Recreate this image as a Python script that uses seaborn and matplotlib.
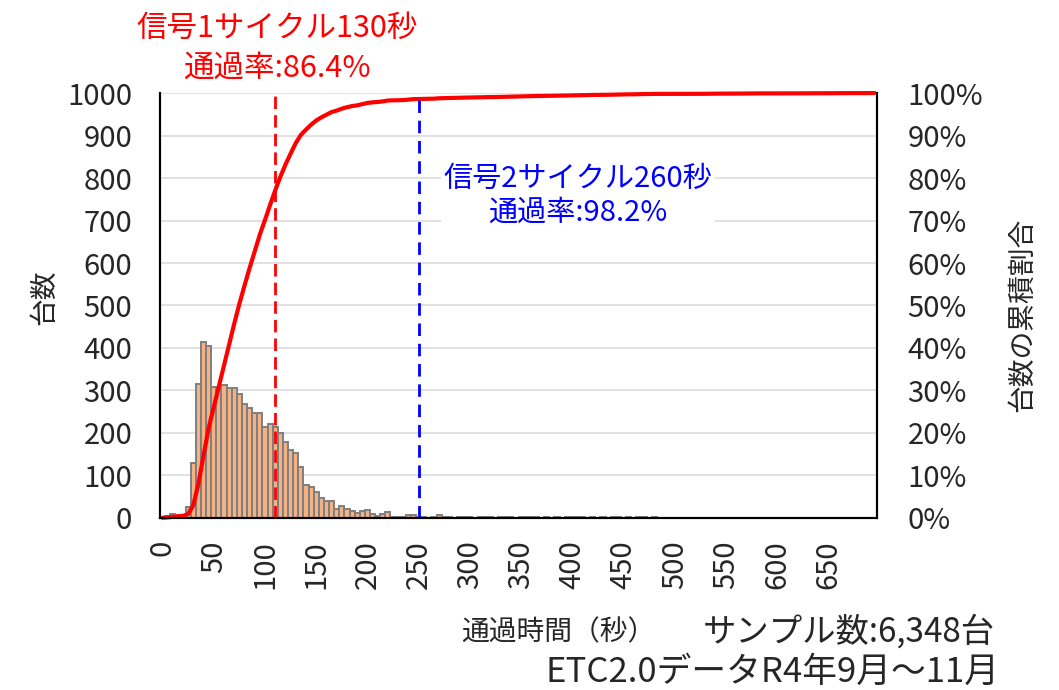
import numpy as np
import pandas as pd
import matplotlib
matplotlib.use("Agg")
import matplotlib.pyplot as plt
import seaborn as sns
from matplotlib.ticker import PercentFormatter

# Data (5 second bins, 0 - 695 sec)
bin_start = list(range(0, 700, 5))

counts = [
    3, 5, 9, 7, 8, 26, 130, 316, 415, 404,
    308, 303, 314, 305, 305, 291, 268, 258, 246, 246,
    214, 222, 213, 200, 179, 161, 153, 121, 78, 72,
    62, 46, 39, 39, 21, 29, 21, 17, 11, 17,
    18, 9, 5, 9, 13, 2, 2, 2, 7, 7,
    2, 2, 1, 2, 6, 2, 2, 1, 2, 2,
    2, 1, 2, 2, 2, 0, 2, 2, 2, 1,
    2, 2, 2, 2, 1, 2, 0, 2, 0, 2,
    2, 2, 2, 1, 2, 0, 2, 0, 2, 2,
    1, 2, 0, 2, 2, 0, 2, 0, 0, 0,
    0, 0, 0, 1, 0, 0, 1, 1, 1, 0,
    0, 0, 0, 1, 1, 0, 1, 0, 0, 0,
    0, 0, 0, 0, 1, 0, 1, 0, 0, 0,
    1, 0, 1, 0, 0, 0, 0, 0, 1, 1,
]

# Signal cycle lines (bin index)
cycle1_bin = 22
cycle2_bin = 50

df = pd.DataFrame({"bin": bin_start, "count": counts})
df["idx"] = range(len(df))
df["cum"] = df["count"].cumsum() / df["count"].sum()

# Style
sns.set_style("white")
plt.rcParams["font.family"] = ["Noto Sans CJK JP", "DejaVu Sans"]

fig = plt.figure(figsize=(10.59, 6.90), dpi=100)
ax = fig.add_axes([0.1511, 0.2493, 0.6771, 0.6159])

# Histogram bars
sns.barplot(data=df, x="bin", y="count", color="#F4B183", saturation=1,
            edgecolor="#7f7f7f", linewidth=1.4, width=1.0, ax=ax)
ax.set_ylim(0, 1000)
ax.set_xlim(-0.5, len(df) - 0.5)
ax.set_yticks(range(0, 1001, 100))
ax.set_xticks(range(0, len(df), 10))
ax.set_xticklabels([str(b) for b in bin_start[::10]], rotation=90)
ax.yaxis.grid(True, color="#d9d9d9", linewidth=1.1)
ax.set_axisbelow(True)
ax.tick_params(axis="both", length=0, labelsize=21)
ax.tick_params(axis="y", pad=20)
ax.tick_params(axis="x", pad=16)
ax.set_xlabel("")
ax.set_ylabel("台数", fontsize=20)
ax.yaxis.set_label_coords(-0.14, 0.52)

# Cumulative share line
ax2 = ax.twinx()
sns.lineplot(x=df["idx"], y=df["cum"], color="#FF0000", linewidth=3,
             ax=ax2, clip_on=False)
ax2.set_ylim(0, 1)
ax2.set_yticks(np.arange(0, 1.01, 0.1))
ax2.yaxis.set_major_formatter(PercentFormatter(1.0, decimals=0))
ax2.tick_params(axis="y", length=0, labelsize=21, pad=22)
ax2.set_ylabel("台数の累積割合", fontsize=20)
ax2.yaxis.set_label_coords(1.181, 0.478)

ax2.axvline(cycle1_bin, color="#FF0000", linewidth=2, dashes=(4.5, 2.2))
ax2.axvline(cycle2_bin, color="#0000FF", linewidth=2, dashes=(4.5, 2.8))

for a in (ax, ax2):
    a.spines["top"].set_visible(False)
    for s in ("left", "right", "bottom"):
        a.spines[s].set_color("black")
        a.spines[s].set_linewidth(1.5)

# Annotations
fig.text(0.2616, 0.9594, "信号1サイクル130秒", color="#FF0000", fontsize=22,
         ha="center", va="center")
fig.text(0.2616, 0.9014, "通過率:86.4%", color="#FF0000", fontsize=22,
         ha="center", va="center")
fig.text(0.5458, 0.7167, "信号2サイクル260秒\n通過率:98.2%", color="#0000FF",
         fontsize=21, ha="center", va="center", linespacing=1.15,
         bbox=dict(facecolor="white", edgecolor="none", pad=2))

fig.text(0.527, 0.0841, "通過時間（秒）", fontsize=20, ha="center", va="center")
fig.text(0.9396, 0.0841, "サンプル数:6,348台", fontsize=24, ha="right", va="center")
fig.text(0.944, 0.0261, "ETC2.0データR4年9月～11月", fontsize=25, ha="right", va="center")

fig.savefig("out.png", dpi=100)
